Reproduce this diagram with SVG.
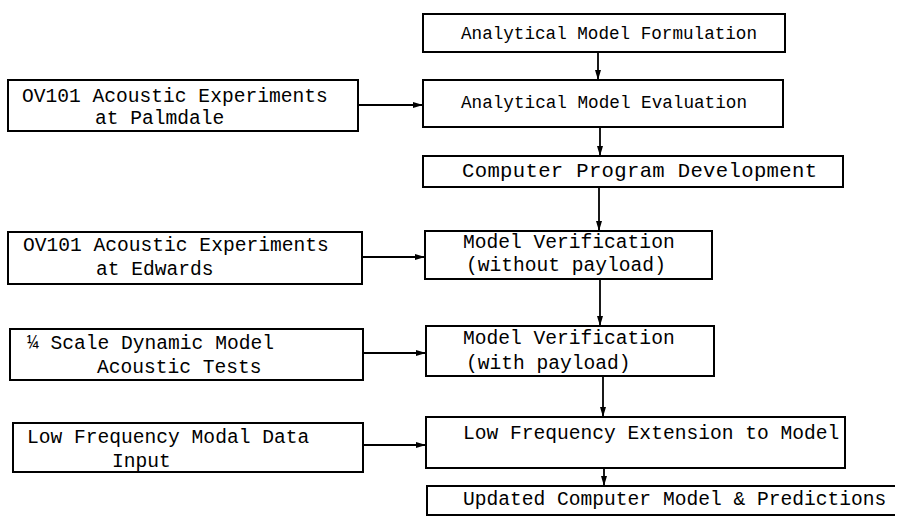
<svg xmlns="http://www.w3.org/2000/svg" width="900" height="517" viewBox="0 0 900 517">
<style>
.box{fill:#fff;stroke:#000;stroke-width:2}
.t{font-family:"Liberation Mono","DejaVu Sans Mono",monospace;font-size:19.6px;fill:#000}
.s{font-size:18.6px}
.b{font-size:20.6px}
.c{stroke:#000;stroke-width:1.8;fill:none}
</style>
<defs>
<marker id="ah" viewBox="0 0 10 8" refX="10" refY="4" markerWidth="10" markerHeight="8" markerUnits="userSpaceOnUse" orient="auto">
<path d="M0,1 L10,4 L0,7 z" fill="#000"/>
</marker>
</defs>
<rect width="900" height="517" fill="#fff"/>
<g id="connectors">
<line class="c" x1="358" y1="105" x2="423" y2="105" marker-end="url(#ah)"/>
<line class="c" x1="362" y1="257" x2="425" y2="257" marker-end="url(#ah)"/>
<line class="c" x1="363" y1="353" x2="426" y2="353" marker-end="url(#ah)"/>
<line class="c" x1="363" y1="445" x2="426" y2="445" marker-end="url(#ah)"/>
<line class="c" x1="598" y1="52" x2="598" y2="80" marker-end="url(#ah)"/>
<line class="c" x1="600" y1="127" x2="600" y2="156" marker-end="url(#ah)"/>
<line class="c" x1="599" y1="187" x2="599" y2="231" marker-end="url(#ah)"/>
<line class="c" x1="600" y1="279" x2="600" y2="326" marker-end="url(#ah)"/>
<line class="c" x1="603" y1="376" x2="603" y2="417" marker-end="url(#ah)"/>
<line class="c" x1="604" y1="468" x2="604" y2="486" marker-end="url(#ah)"/>
</g>
<g id="n-formulation">
<rect class="box" x="423" y="14" width="362" height="38"/>
<text class="t s" x="461" y="39" textLength="296" lengthAdjust="spacingAndGlyphs">Analytical Model Formulation</text>
</g>
<g id="n-evaluation">
<rect class="box" x="423" y="80" width="360" height="47"/>
<text class="t s" x="461" y="108" textLength="286" lengthAdjust="spacingAndGlyphs">Analytical Model Evaluation</text>
</g>
<g id="n-program">
<rect class="box" x="423" y="156" width="420" height="31"/>
<text class="t b" x="462" y="177" textLength="355" lengthAdjust="spacing">Computer Program Development</text>
</g>
<g id="n-verif1">
<rect class="box" x="425" y="231" width="287" height="48"/>
<text class="t" x="463" y="248">Model Verification</text>
<text class="t" x="466" y="271">(without payload)</text>
</g>
<g id="n-verif2">
<rect class="box" x="426" y="326" width="288" height="50"/>
<text class="t" x="463" y="344">Model Verification</text>
<text class="t" x="466" y="369">(with payload)</text>
</g>
<g id="n-lowfreqext">
<rect class="box" x="426" y="417" width="419" height="51"/>
<text class="t" x="463" y="439">Low Frequency Extension to Model</text>
</g>
<g id="n-updated">
<path class="box" d="M895,486 L427,486 L427,515 L895,515"/>
<text class="t" x="463" y="505">Updated Computer Model &amp; Predictions</text>
</g>
<g id="n-palmdale">
<rect class="box" x="8" y="80" width="350" height="51"/>
<text class="t" x="22" y="102">OV101 Acoustic Experiments</text>
<text class="t" x="95" y="124">at Palmdale</text>
</g>
<g id="n-edwards">
<rect class="box" x="8" y="232" width="354" height="52"/>
<text class="t" x="23" y="251">OV101 Acoustic Experiments</text>
<text class="t" x="96" y="275">at Edwards</text>
</g>
<g id="n-scale">
<rect class="box" x="10" y="329" width="353" height="51"/>
<text class="t" x="27" y="349">¼ Scale Dynamic Model</text>
<text class="t" x="97" y="373">Acoustic Tests</text>
</g>
<g id="n-modal">
<rect class="box" x="13" y="423" width="350" height="49"/>
<text class="t" x="27" y="443">Low Frequency Modal Data</text>
<text class="t" x="112" y="467">Input</text>
</g>
</svg>
